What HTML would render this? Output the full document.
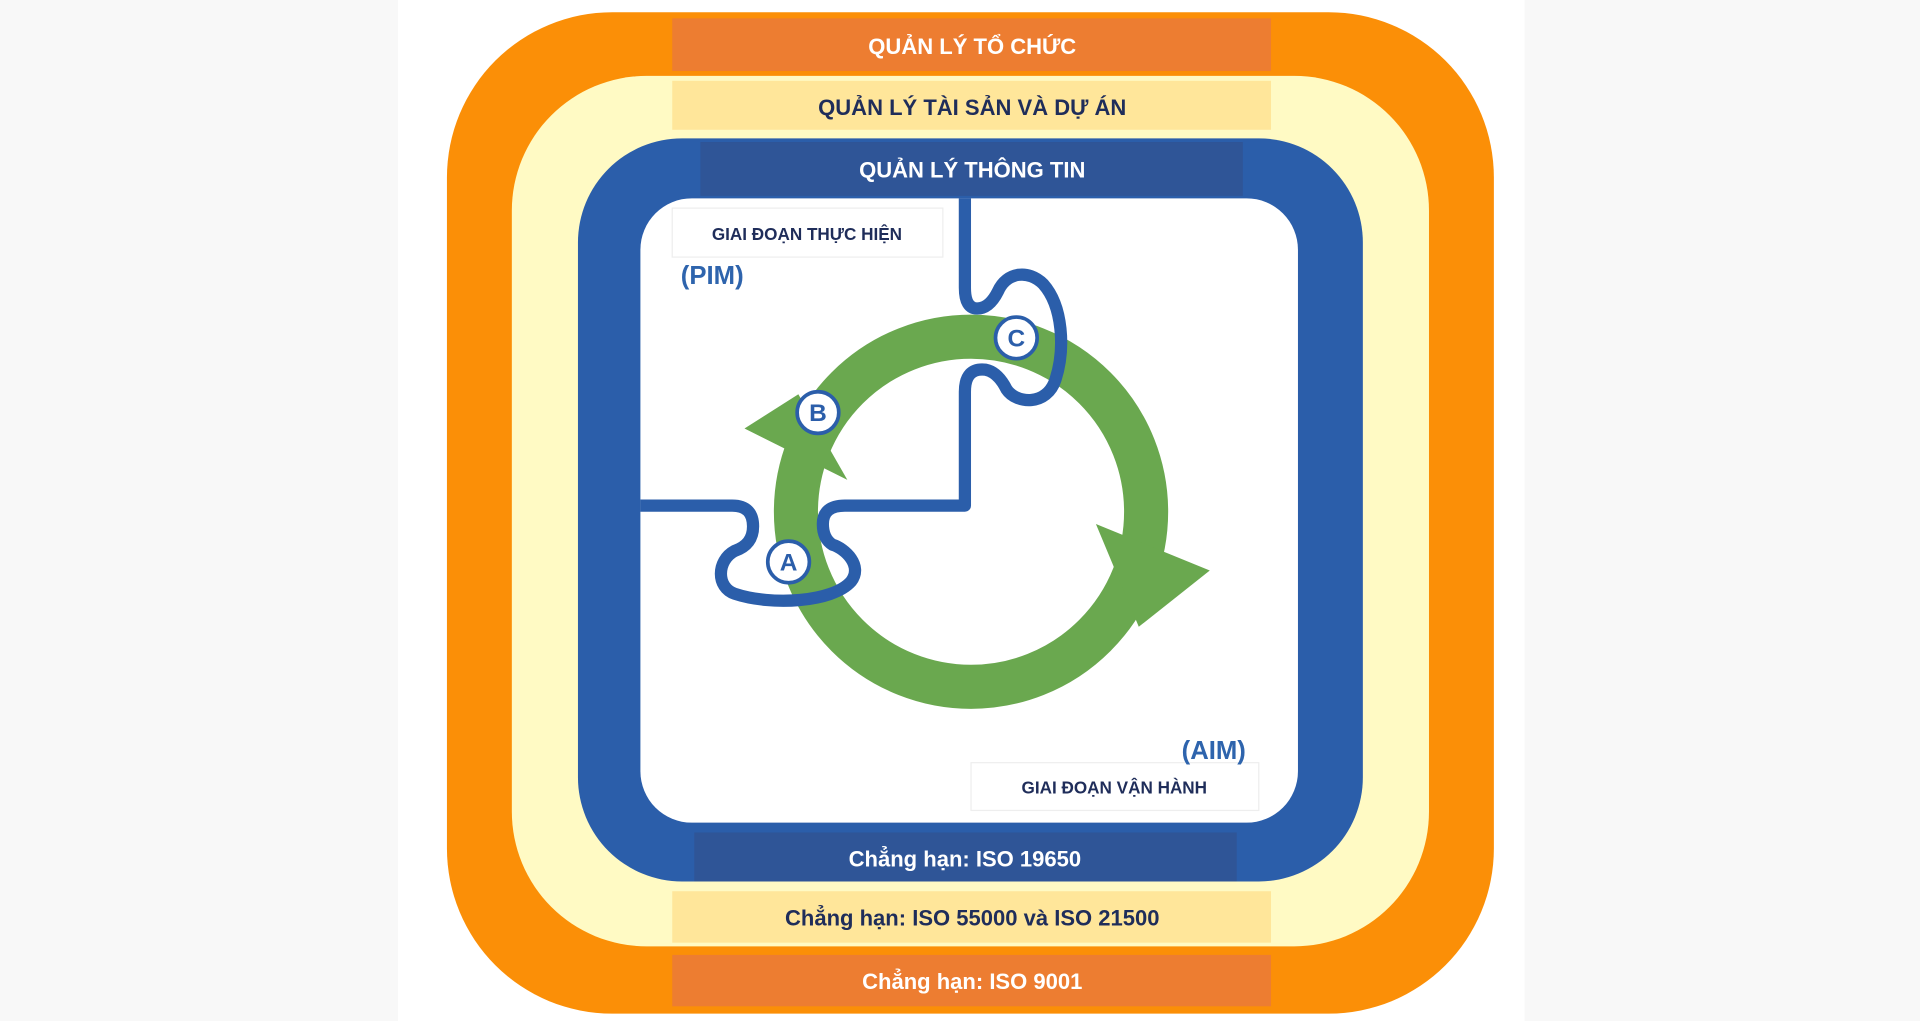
<!DOCTYPE html>
<html><head><meta charset="utf-8"><style>
html,body{margin:0;padding:0;background:#f8f8f8;width:1920px;height:1021px;overflow:hidden}
svg{display:block}
text{font-family:"Liberation Sans",sans-serif;font-weight:bold}
</style></head><body>
<svg width="1920" height="1021" viewBox="0 0 1568 834" preserveAspectRatio="none">
<rect x="325" y="0" width="920" height="834" fill="#ffffff"/>
<rect x="365" y="10" width="855" height="818" rx="135" fill="#fb8f07"/>
<rect x="549" y="15" width="489" height="43" fill="#ed7d31"/>
<text x="794" y="44" fill="#fff" font-size="18" text-anchor="middle">QUẢN LÝ TỔ CHỨC</text>
<rect x="418" y="62" width="749" height="711" rx="110" fill="#fffac4"/>
<rect x="549" y="66" width="489" height="40" fill="#ffe69a"/>
<text x="794" y="94" fill="#1f2d5a" font-size="18" text-anchor="middle">QUẢN LÝ TÀI SẢN VÀ DỰ ÁN</text>
<rect x="472" y="113" width="641" height="607" rx="85" fill="#2b5eaa"/>
<rect x="572" y="116" width="443" height="44" fill="#2f5597"/>
<text x="794" y="145" fill="#fff" font-size="18" text-anchor="middle">QUẢN LÝ THÔNG TIN</text>
<rect x="567" y="680" width="443" height="40" fill="#2f5597"/>
<text x="788" y="708" fill="#fff" font-size="18" text-anchor="middle">Chẳng hạn: ISO 19650</text>
<rect x="549" y="728" width="489" height="42" fill="#ffe69a"/>
<text x="794" y="756" fill="#1f2d5a" font-size="18" text-anchor="middle">Chẳng hạn: ISO 55000 và ISO 21500</text>
<rect x="549" y="780" width="489" height="42" fill="#ed7d31"/>
<text x="794" y="808" fill="#fff" font-size="18" text-anchor="middle">Chẳng hạn: ISO 9001</text>
<rect x="523" y="162" width="537" height="510" rx="42" fill="#ffffff"/>
<rect x="549" y="170" width="221" height="40" fill="#fff" stroke="#eeeeee"/>
<text x="659" y="196" fill="#1f2d5a" font-size="14" text-anchor="middle">GIAI ĐOẠN THỰC HIỆN</text>
<text x="556" y="232" fill="#2e64ad" font-size="21">(PIM)</text>
<rect x="793" y="623" width="235" height="39" fill="#fff" stroke="#eeeeee"/>
<text x="910" y="648" fill="#1f2d5a" font-size="14" text-anchor="middle">GIAI ĐOẠN VẬN HÀNH</text>
<text x="965" y="620" fill="#2e64ad" font-size="21">(AIM)</text>
<circle cx="793" cy="418" r="143" fill="none" stroke="#6aa84f" stroke-width="36"/>
<polygon points="895,428 988,466 930,512" fill="#6aa84f"/>
<polygon points="608,350 652,322 692,392" fill="#6aa84f"/>
<path d="M523,413 L598,413 Q615,413 615,430 Q615,445 600,450 C585,458 585,480 600,485 C630,495 680,492 695,475 C705,462 690,448 680,445 Q672,440 672,428 Q672,413 690,413 L788,413 L788,320 Q788,300 805,302 Q815,304 822,318 C830,330 855,332 862,310 C870,285 868,250 852,232 C840,220 822,222 815,238 Q808,252 798,252 Q788,252 788,235 L788,162" fill="none" stroke="#2b5eaa" stroke-width="10" stroke-linejoin="round"/>
<g fill="#fff" stroke="#2b5eaa" stroke-width="3">
<circle cx="644" cy="459" r="17"/><circle cx="668" cy="337" r="17"/><circle cx="830" cy="276" r="17"/></g>
<g fill="#2b5eaa" font-size="20" text-anchor="middle">
<text x="644" y="466">A</text><text x="668" y="344">B</text><text x="830" y="283">C</text></g>
</svg>
</body></html>
